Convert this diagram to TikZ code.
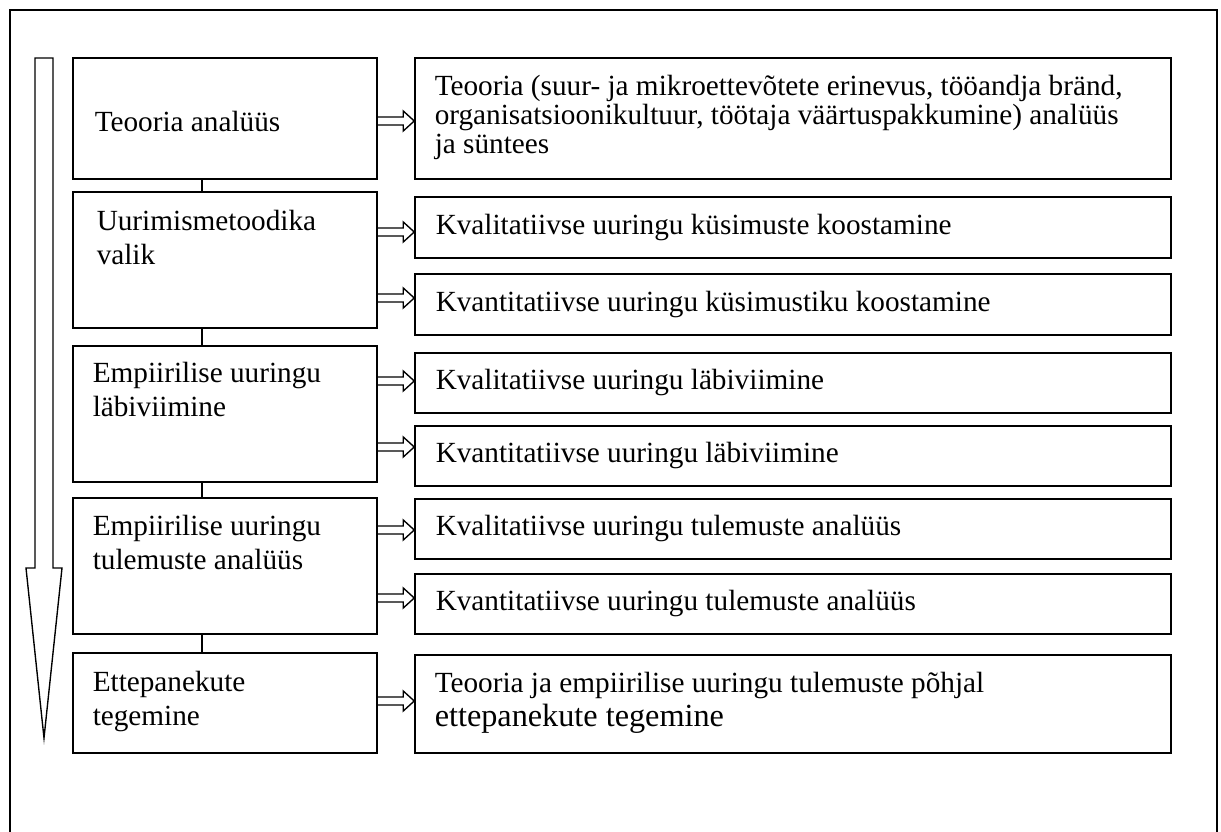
\documentclass[tikz,border=0pt]{standalone}
\usepackage{fontspec}
\setmainfont{Liberation Serif}
\usetikzlibrary{calc,fit}

\tikzset{
  box/.style={draw, line width=0.6pt, inner sep=0pt},
  txt/.style={inner sep=0pt, align=left, font=\fontsize{11.7pt}{13.6pt}\selectfont},
  rtxt/.style={txt, font=\fontsize{11.7pt}{11.6pt}\selectfont},
  flow/.style={draw, line width=0.55pt, line join=miter},
  link/.style={draw, line width=0.6pt},
}
% hollow arrow from the left box to the right box
\newcommand{\hollowarrow}[2]{%
  \draw[flow] let \p1=(#1), \p2=(#2) in
    (\x1,\y2+1.6pt) -- (\x2-4.4pt,\y2+1.6pt) -- (\x2-4.4pt,\y2+4pt) -- (\x2,\y2)
    -- (\x2-4.4pt,\y2-4pt) -- (\x2-4.4pt,\y2-1.6pt) -- (\x1,\y2-1.6pt);
}

\begin{document}
\begin{tikzpicture}[x=0.4pt, y=-0.4pt]
    \clip (0,0) rectangle (1221,832);
    % Frame
    \draw[line width=0.6pt] (10,10) rectangle (1217,860);
    % Big arrow
    \draw[flow] (35,58) -- (53,58) -- (53,568) -- (62,568) -- (44,738)
        -- (26,568) -- (35,568) -- cycle;

    % Steps
    \node[box, fit={(73,58) (377,179)}] (l1) {};
    \node[box, fit={(73,192) (377,328)}] (l2) {};
    \node[box, fit={(73,346) (377,482)}] (l3) {};
    \node[box, fit={(73,498) (377,634)}] (l4) {};
    \node[box, fit={(73,653) (377,753)}] (l5) {};
    \node[txt, anchor=west] (t1) at ($(l1.west)+(22,3)$) {Teooria analüüs};
    \node[txt, anchor=north west] (t2) at ($(l2.north west)+(24,18)$) {Uurimismetoodika\\valik};
    \node[txt, anchor=north west] (t3) at ($(l3.north west)+(20,16)$) {Empiirilise uuringu\\läbiviimine};
    \node[txt, anchor=north west] (t4) at ($(l4.north west)+(20,17)$) {Empiirilise uuringu\\tulemuste analüüs};
    \node[txt, anchor=north west] (t5) at ($(l5.north west)+(20,18)$) {Ettepanekute\\tegemine};
    \foreach \a/\b in {l1/l2, l2/l3, l3/l4, l4/l5} {
        \draw[link] ([xshift=-9.2pt]\a.south) -- ([xshift=-9.2pt]\b.north);
    }

    % Tasks
    \node[box, fit={(415,58) (1171,179)}] (r1) {};
    \node[box, fit={(415,197) (1171,258)}] (r2a) {};
    \node[box, fit={(415,274) (1171,335)}] (r2b) {};
    \node[box, fit={(415,353) (1171,413)}] (r3a) {};
    \node[box, fit={(415,426) (1171,486)}] (r3b) {};
    \node[box, fit={(415,499) (1171,559)}] (r4a) {};
    \node[box, fit={(415,574) (1171,634)}] (r4b) {};
    \node[box, fit={(415,655) (1171,753)}] (r5) {};
    \node[rtxt, anchor=north west] (s1) at ($(r1.north west)+(20,17)$)
        {Teooria (suur- ja mikroettevõtete erinevus, tööandja bränd,\\
         organisatsioonikultuur, töötaja väärtuspakkumine) analüüs\\ja süntees};
    \node[txt, anchor=west] (s2a) at ($(r2a.west)+(21,0)$) {Kvalitatiivse uuringu küsimuste koostamine};
    \node[txt, anchor=west] (s2b) at ($(r2b.west)+(21,0)$) {Kvantitatiivse uuringu küsimustiku koostamine};
    \node[txt, anchor=west] (s3a) at ($(r3a.west)+(21,0)$) {Kvalitatiivse uuringu läbiviimine};
    \node[txt, anchor=west] (s3b) at ($(r3b.west)+(21,0)$) {Kvantitatiivse uuringu läbiviimine};
    \node[txt, anchor=west] (s4a) at ($(r4a.west)+(21,0)$) {Kvalitatiivse uuringu tulemuste analüüs};
    \node[txt, anchor=west] (s4b) at ($(r4b.west)+(21,0)$) {Kvantitatiivse uuringu tulemuste analüüs};
    \node[txt, anchor=north west] (s5) at ($(r5.north west)+(20,17)$)
        {Teooria ja empiirilise uuringu tulemuste põhjal\\
         {\fontsize{12.9pt}{14pt}\selectfont ettepanekute tegemine}};

    % Arrows
    \hollowarrow{l1.east}{$(r1.west)+(0,2.5)$}
    \hollowarrow{l2.east}{$(r2a.west)+(0,4.5)$}
    \hollowarrow{l2.east}{$(r2b.west)+(0,-6.5)$}
    \hollowarrow{l3.east}{$(r3a.west)+(0,-2)$}
    \hollowarrow{l3.east}{$(r3b.west)+(0,-9)$}
    \hollowarrow{l4.east}{$(r4a.west)+(0,1)$}
    \hollowarrow{l4.east}{$(r4b.west)+(0,-6)$}
    \hollowarrow{l5.east}{$(r5.west)+(0,-3)$}
\end{tikzpicture}
\end{document}
